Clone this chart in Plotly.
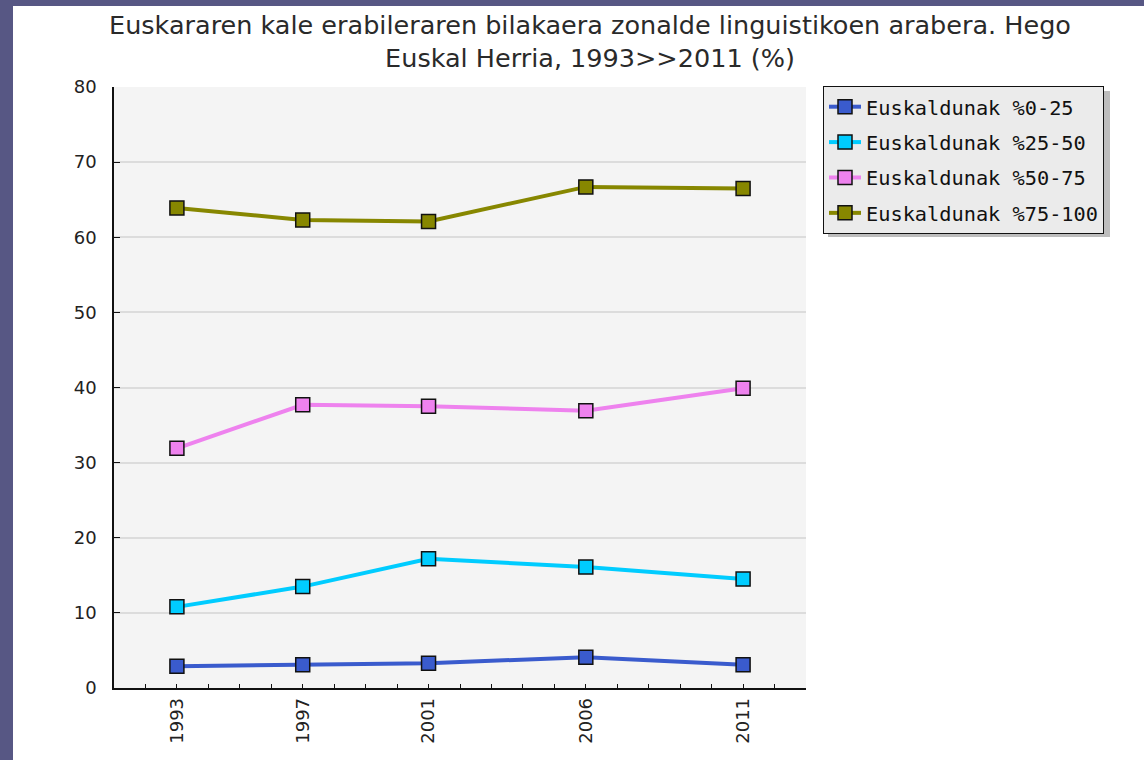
import plotly.graph_objects as go

years = [1993, 1997, 2001, 2006, 2011]
series_names = ["Euskaldunak %0-25", "Euskaldunak %25-50", "Euskaldunak %50-75", "Euskaldunak %75-100"]
v_0_25 = [2.9, 3.1, 3.3, 4.1, 3.1]
v_25_50 = [10.8, 13.5, 17.2, 16.1, 14.5]
v_50_75 = [31.9, 37.7, 37.5, 36.9, 39.9]
v_75_100 = [63.9, 62.3, 62.1, 66.7, 66.5]
colors = ["#3a5bcd", "#00ccff", "#ee82ee", "#878700"]
title_text = "Euskararen kale erabileraren bilakaera zonalde linguistikoen arabera. Hego<br>Euskal Herria, 1993>>2011 (%)"

W, H = 1144, 760
L, R, T, B = 114, 338, 87, 72
pw, ph = W - L - R, H - T - B

def px(x):
    return (x - L) / pw

def py(y):
    return (H - B - y) / ph

fig = go.Figure()
for i, (name, vals) in enumerate(zip(series_names, [v_0_25, v_25_50, v_50_75, v_75_100])):
    fig.add_trace(go.Scatter(
        x=years, y=vals, name=name, mode="lines+markers",
        legendgroup=f"g{i}",
        line=dict(color=colors[i], width=4),
        marker=dict(symbol="square", size=14, color=colors[i], line=dict(color="#111111", width=1.5)),
    ))

shapes = [
    # slide background strips
    dict(type="rect", xref="paper", yref="paper", x0=px(0), x1=px(13), y0=py(H), y1=py(0),
         fillcolor="#575784", line=dict(width=0), layer="above"),
    dict(type="rect", xref="paper", yref="paper", x0=px(0), x1=px(W), y0=py(6), y1=py(0),
         fillcolor="#575784", line=dict(width=0), layer="above"),
    # legend shadow
    dict(type="rect", xref="paper", yref="paper", x0=px(828), x1=px(1110), y0=py(237), y1=py(91),
         fillcolor="#bdbdbd", line=dict(width=0), layer="above"),
]

fig.update_layout(
    width=W, height=H,
    margin=dict(l=L, r=R, t=T, b=B, autoexpand=False),
    paper_bgcolor="white",
    plot_bgcolor="#f4f4f4",
    font=dict(family="DejaVu Sans", color="#222222", size=18),
    title=dict(text=title_text, x=590 / W, xanchor="center", xref="container",
               y=1 - 34 / H, yanchor="top", yref="container",
               font=dict(family="DejaVu Sans", size=25.5, color="#2a2a2a")),
    showlegend=True,
    legend=dict(x=px(823), y=py(86), xanchor="left", yanchor="top",
                bgcolor="#ebebeb", bordercolor="#111111", borderwidth=1,
                font=dict(family="DejaVu Sans Mono", size=20.3, color="#111111"),
                tracegroupgap=6, itemwidth=32),
    shapes=shapes,
    xaxis=dict(range=[1991, 2013], tickmode="array", tickvals=years, ticktext=[str(y) for y in years],
               tickangle=-90, ticks="inside", ticklen=4, tickcolor="#111111",
               showgrid=False, zeroline=False, showline=True, linecolor="#111111", linewidth=1.5,
               minor=dict(tickmode="linear", tick0=1991, dtick=1, ticks="inside", ticklen=4,
                          tickcolor="#111111", showgrid=False),
               ticklabelstandoff=1,
               tickfont=dict(family="DejaVu Sans", size=18, color="#222222")),
    yaxis=dict(range=[0, 80], dtick=10, ticks="inside", ticklen=6, tickcolor="#111111",
               showgrid=True, gridcolor="#dcdcdc", gridwidth=1.5, zeroline=False,
               showline=True, linecolor="#111111", linewidth=1.5, ticklabelstandoff=12,
               tickfont=dict(family="DejaVu Sans", size=18, color="#222222")),
)

fig.write_html("out.html", config={"displayModeBar": False},
               post_script="document.body.style.margin='0';document.body.style.overflow='hidden';")
